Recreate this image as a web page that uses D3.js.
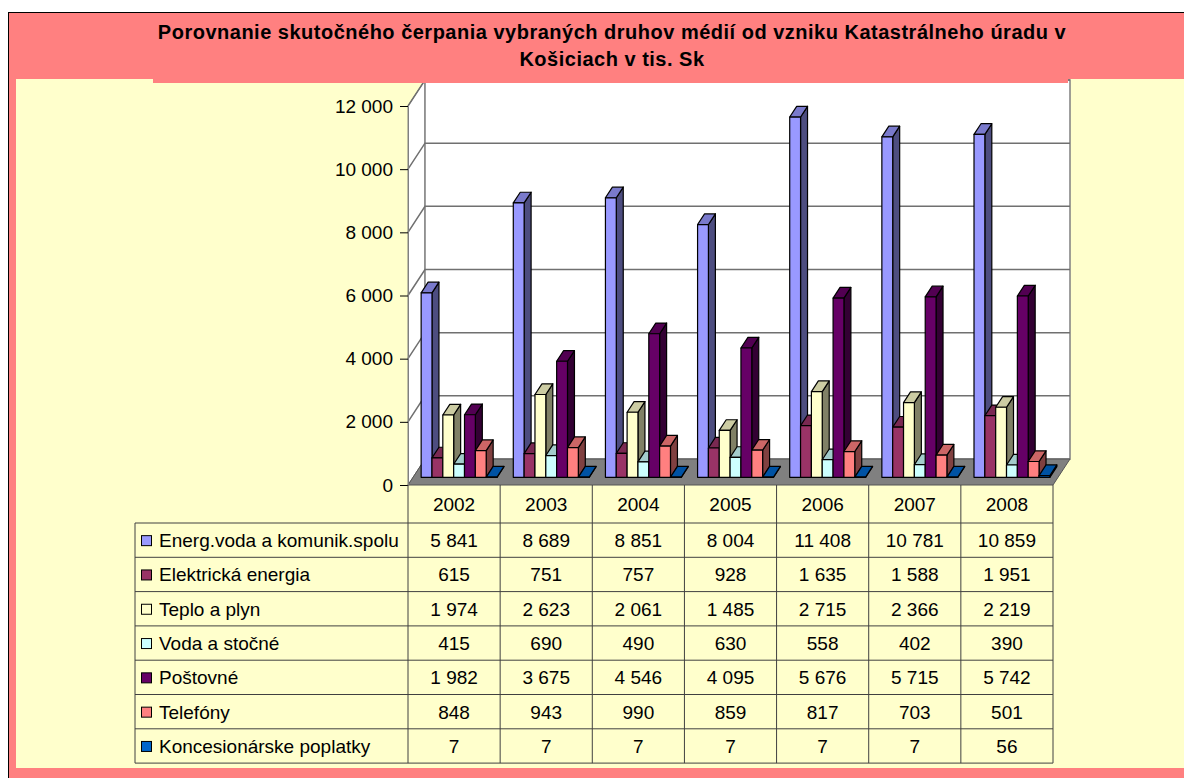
<!DOCTYPE html>
<html>
<head>
<meta charset="utf-8">
<script src="https://cdn.jsdelivr.net/npm/d3@7"></script>
<style>
  body { margin: 0; background: #fff; }
  svg { display: block; font-family: "Liberation Sans", Arial, sans-serif; }
</style>
</head>
<body>
<script>
// chart data
var years = ['2002', '2003', '2004', '2005', '2006', '2007', '2008'];
var seriesNames = ['Energ.voda a komunik.spolu', 'Elektrická energia', 'Teplo a plyn',
  'Voda a stočné', 'Poštovné', 'Telefóny', 'Koncesionárske poplatky'];
var energSpolu = [5841, 8689, 8851, 8004, 11408, 10781, 10859];
var elektrina = [615, 751, 757, 928, 1635, 1588, 1951];
var teploPlyn = [1974, 2623, 2061, 1485, 2715, 2366, 2219];
var vodaStocne = [415, 690, 490, 630, 558, 402, 390];
var postovne = [1982, 3675, 4546, 4095, 5676, 5715, 5742];
var telefony = [848, 943, 990, 859, 817, 703, 501];
var koncesie = [7, 7, 7, 7, 7, 7, 56];
var yTicks = [0, 2000, 4000, 6000, 8000, 10000, 12000];
var titleLines = ['Porovnanie skutočného čerpania vybraných druhov médií od vzniku Katastrálneho úradu v',
  'Košiciach v tis. Sk'];

var values = [energSpolu, elektrina, teploPlyn, vodaStocne, postovne, telefony, koncesie];
var colors = ['#9999FF', '#993366', '#FFFFCC', '#CCFFFF', '#660066', '#FF8080', '#0066CC'];

var width = 1184, height = 778;
var svg = d3.select('body').append('svg').attr('width', width).attr('height', height);

// frame + backgrounds
svg.append('rect').attr('x', 8.5).attr('y', 12.5).attr('width', 1200).attr('height', 800)
  .attr('fill', '#FF8080').attr('stroke', '#000').attr('stroke-width', 1);
svg.append('rect').attr('x', 16).attr('y', 79).attr('width', 1200).attr('height', 689).attr('fill', '#FFFFCC');

// scales
var x0 = d3.scaleBand().domain(years).range([408, 1053]);
var x1 = d3.scaleBand().domain(seriesNames).range([0, x0.bandwidth()]).paddingOuter(0.75);
var y = d3.scaleLinear().domain([0, 12000]).range([485, 106]);
var dx = 17, dy = -26;            // depth of floor
var fFront = 0.295, fBack = 0.705; // bar depth inside floor

function pt(x, yy, f) { return [x + dx * f, yy + dy * f]; }
function poly(pts) { return 'M' + pts.map(function (p) { return p.join(','); }).join('L') + 'Z'; }

var x0min = x0.range()[0], x0max = x0.range()[1];
var wallColor = '#808080';

// left wall
svg.append('path')
  .attr('d', poly([pt(x0min, y(0), 0), pt(x0min, y(12000), 0), pt(x0min, y(12000), 1), pt(x0min, y(0), 1)]))
  .attr('fill', '#fff').attr('stroke', wallColor);
// back wall
svg.append('path')
  .attr('d', poly([pt(x0min, y(0), 1), pt(x0min, y(12000), 1), pt(x0max, y(12000), 1), pt(x0max, y(0), 1)]))
  .attr('fill', '#fff').attr('stroke', wallColor).attr('stroke-width', 1.5);

// gridlines
var grid = svg.append('g');
yTicks.slice(1).forEach(function (t) {
  grid.append('path').attr('d', 'M' + pt(x0min, y(t), 0) + 'L' + pt(x0min, y(t), 1) + 'L' + pt(x0max, y(t), 1))
    .attr('fill', 'none').attr('stroke', '#707070').attr('stroke-width', 1.5);
});

// floor
svg.append('path')
  .attr('d', poly([pt(x0min, y(0), 0), pt(x0max, y(0), 0), pt(x0max, y(0), 1), pt(x0min, y(0), 1)]))
  .attr('fill', '#808080').attr('stroke', '#555');

// y axis
var fmt = function (v) { return d3.format(',')(v).replace(/,/g, ' '); };
var yAxis = svg.append('g').attr('transform', 'translate(' + x0min + ',0)')
  .call(d3.axisLeft(y).tickValues(yTicks).tickFormat(fmt).tickSize(8).tickPadding(7).tickSizeOuter(0));
yAxis.select('.domain').attr('stroke', wallColor);
yAxis.selectAll('.tick line').attr('stroke', '#000');
yAxis.selectAll('.tick text').attr('font-size', 19).attr('font-family', '"Liberation Sans", Arial, sans-serif')
  .attr('fill', '#000');

// bars, drawn left to right so later fronts hide earlier sides
var bars = [];
years.forEach(function (yr, ci) {
  seriesNames.forEach(function (s, si) {
    bars.push({ year: yr, series: s, si: si, v: values[si][ci] });
  });
});

var barG = svg.append('g').selectAll('g').data(bars).enter().append('g');
barG.each(function (d) {
  var g = d3.select(this);
  var xl = x0(d.year) + x1(d.series), xr = xl + x1.bandwidth();
  var yb = y(0), yt = y(d.v);
  var c = d3.rgb(colors[d.si]);
  var top = d3.rgb(c.r * 0.8, c.g * 0.8, c.b * 0.8);
  var side = d3.rgb(c.r * 0.5, c.g * 0.5, c.b * 0.5);
  // side
  g.append('path').attr('d', poly([pt(xr, yb, fFront), pt(xr, yt, fFront), pt(xr, yt, fBack), pt(xr, yb, fBack)]))
    .attr('fill', side).attr('stroke', '#000').attr('stroke-width', 1.2).attr('stroke-linejoin', 'round');
  // top
  g.append('path').attr('d', poly([pt(xl, yt, fFront), pt(xr, yt, fFront), pt(xr, yt, fBack), pt(xl, yt, fBack)]))
    .attr('fill', top).attr('stroke', '#000').attr('stroke-width', 1.2).attr('stroke-linejoin', 'round');
  // front
  g.append('path').attr('d', poly([pt(xl, yb, fFront), pt(xl, yt, fFront), pt(xr, yt, fFront), pt(xr, yb, fFront)]))
    .attr('fill', c).attr('stroke', '#000').attr('stroke-width', 1.2).attr('stroke-linejoin', 'round');
});

// title box sits over the top of the plot
svg.append('rect').attr('x', 153).attr('y', 13).attr('width', 915).attr('height', 70).attr('fill', '#FF8080');
svg.selectAll('text.title').data(titleLines).enter().append('text')
  .attr('class', 'title')
  .attr('x', 612).attr('y', function (d, i) { return 39 + i * 27; })
  .attr('text-anchor', 'middle').attr('font-size', 20).attr('font-weight', 'bold')
  .attr('letter-spacing', 0.5)
  .text(function (d) { return d; });

// data table
var tableTop = 523, rowH = 34.3, tableLeft = 135;
var lineColor = '#404040';
var table = svg.append('g');
years.forEach(function (yr) {
  table.append('text').attr('x', x0(yr) + x0.bandwidth() / 2).attr('y', 511)
    .attr('text-anchor', 'middle').attr('font-size', 19).text(yr);
});
var colEdges = years.map(function (yr) { return x0(yr); }).concat([x0max]);
table.selectAll('line.v').data(colEdges).enter().append('line')
  .attr('x1', function (d) { return d; }).attr('x2', function (d) { return d; })
  .attr('y1', y(0)).attr('y2', tableTop + rowH * seriesNames.length)
  .attr('stroke', lineColor);
d3.range(seriesNames.length + 1).forEach(function (r) {
  table.append('line').attr('x1', tableLeft).attr('x2', x0max)
    .attr('y1', tableTop + r * rowH).attr('y2', tableTop + r * rowH).attr('stroke', lineColor);
});
table.append('line').attr('x1', tableLeft).attr('x2', tableLeft)
  .attr('y1', tableTop).attr('y2', tableTop + rowH * seriesNames.length).attr('stroke', lineColor);

seriesNames.forEach(function (s, si) {
  var cy = tableTop + si * rowH + rowH / 2;
  table.append('rect').attr('x', 141.5).attr('y', cy - 4.5).attr('width', 10).attr('height', 10)
    .attr('fill', colors[si]).attr('stroke', '#000');
  table.append('text').attr('x', 159).attr('y', cy + 7).attr('font-size', 19).text(s);
  years.forEach(function (yr, ci) {
    table.append('text').attr('x', x0(yr) + x0.bandwidth() / 2).attr('y', cy + 7)
      .attr('text-anchor', 'middle').attr('font-size', 19).text(fmt(values[si][ci]));
  });
});
</script>
</body>
</html>
